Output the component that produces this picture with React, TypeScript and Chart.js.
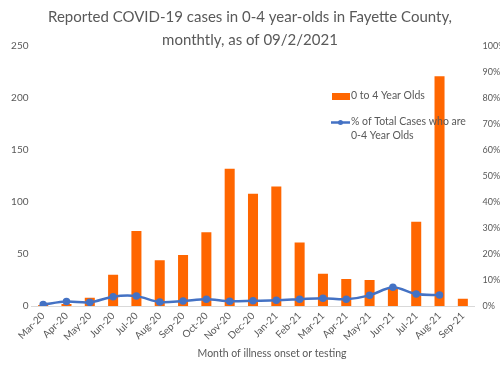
import React, { useEffect, useRef } from "react";
import { Chart, registerables } from "chart.js";

Chart.register(...registerables);

const months = ["Mar-20","Apr-20","May-20","Jun-20","Jul-20","Aug-20","Sep-20","Oct-20","Nov-20","Dec-20","Jan-21","Feb-21","Mar-21","Apr-21","May-21","Jun-21","Jul-21","Aug-21","Sep-21"];
const cases0to4 = [1, 2, 8, 30, 72, 44, 49, 71, 132, 108, 115, 61, 31, 26, 25, 17, 81, 221, 7];
const pctOfTotal = [0.6, 1.7, 1.4, 3.6, 3.8, 1.5, 1.9, 2.6, 1.8, 2.0, 2.2, 2.6, 3.0, 2.6, 4.1, 7.2, 4.6, 4.2, null];
const titleLines = ["Reported COVID-19 cases in 0-4 year-olds in Fayette County,", "monthtly, as of 09/2/2021"];
const xAxisTitle = "Month of illness onset or testing";
const barLabel = "0 to 4 Year Olds";
const lineLabelLines = ["% of Total Cases who are", "0-4 Year Olds"];

const ORANGE = "#FF6600";
const BLUE = "#4472C4";
const GRAY = "#595959";
const FONT = "Lato, 'Open Sans', sans-serif";

const overlayPlugin = {
  id: "overlay",
  afterDraw(chart: any) {
    const ctx = chart.ctx as CanvasRenderingContext2D;
    ctx.save();
    ctx.fillStyle = GRAY;
    ctx.textAlign = "center";
    ctx.textBaseline = "middle";
    ctx.font = `15px ${FONT}`;
    ctx.fillText(titleLines[0], 250, 17);
    ctx.fillText(titleLines[1], 250, 40);
    ctx.font = `10.5px ${FONT}`;
    ctx.fillText(xAxisTitle, 272, 354);
    // legend
    ctx.fillStyle = ORANGE;
    ctx.fillRect(332, 93, 18, 7);
    ctx.strokeStyle = BLUE;
    ctx.lineWidth = 2.5;
    ctx.beginPath();
    ctx.moveTo(331, 122.5);
    ctx.lineTo(350, 122.5);
    ctx.stroke();
    ctx.fillStyle = BLUE;
    ctx.beginPath();
    ctx.arc(340.5, 122.5, 2.5, 0, Math.PI * 2);
    ctx.fill();
    ctx.fillStyle = GRAY;
    ctx.textAlign = "left";
    ctx.font = `10.5px ${FONT}`;
    ctx.fillText(barLabel, 351, 96);
    ctx.fillText(lineLabelLines[0], 351, 122);
    ctx.fillText(lineLabelLines[1], 351, 136);
    ctx.restore();
  },
};

export default function App() {
  const ref = useRef<HTMLCanvasElement | null>(null);
  useEffect(() => {
    document.body.style.margin = "0";
    const canvas = ref.current!;
    const chart = new Chart(canvas, {
      type: "bar",
      data: {
        labels: months,
        datasets: [
          {
            type: "line",
            label: lineLabelLines.join(" "),
            data: pctOfTotal,
            yAxisID: "y1",
            borderColor: BLUE,
            backgroundColor: BLUE,
            borderWidth: 2.5,
            pointRadius: 2.5,
            pointHoverRadius: 2.5,
            tension: 0.3,
            order: 0,
          } as any,
          {
            type: "bar",
            label: barLabel,
            data: cases0to4,
            yAxisID: "y",
            backgroundColor: ORANGE,
            barPercentage: 0.43,
            categoryPercentage: 1,
            order: 1,
          },
        ],
      },
      options: {
        animation: false,
        responsive: false,
        layout: { padding: { top: 46, left: 0, right: 0, bottom: 0 } },
        plugins: { legend: { display: false }, title: { display: false }, tooltip: { enabled: false } },
        scales: {
          x: {
            grid: { display: false, drawTicks: false },
            border: { display: true, color: "#D9D9D9", width: 1 },
            ticks: {
              color: GRAY,
              font: { family: FONT, size: 10 },
              minRotation: 45,
              maxRotation: 45,
              autoSkip: false,
              padding: 4,
            },
            afterFit(scale: any) { scale.height = 60; },
          },
          y: {
            position: "left",
            min: 0,
            max: 250,
            ticks: { stepSize: 50, color: GRAY, font: { family: FONT, size: 10 }, padding: 3 },
            grid: { display: false, drawTicks: false },
            border: { display: false },
            afterFit(scale: any) { scale.width = 31.5; },
          },
          y1: {
            position: "right",
            min: 0,
            max: 100,
            ticks: { stepSize: 10, color: GRAY, font: { family: FONT, size: 9 }, padding: 8, callback: (v: any) => v + "%" },
            grid: { display: false, drawTicks: false },
            border: { display: false },
            afterFit(scale: any) { scale.width = 25.5; },
          },
        },
      },
      plugins: [overlayPlugin],
    });
    return () => chart.destroy();
  }, []);
  return <canvas ref={ref} width={500} height={366} style={{ display: "block" }} />;
}
